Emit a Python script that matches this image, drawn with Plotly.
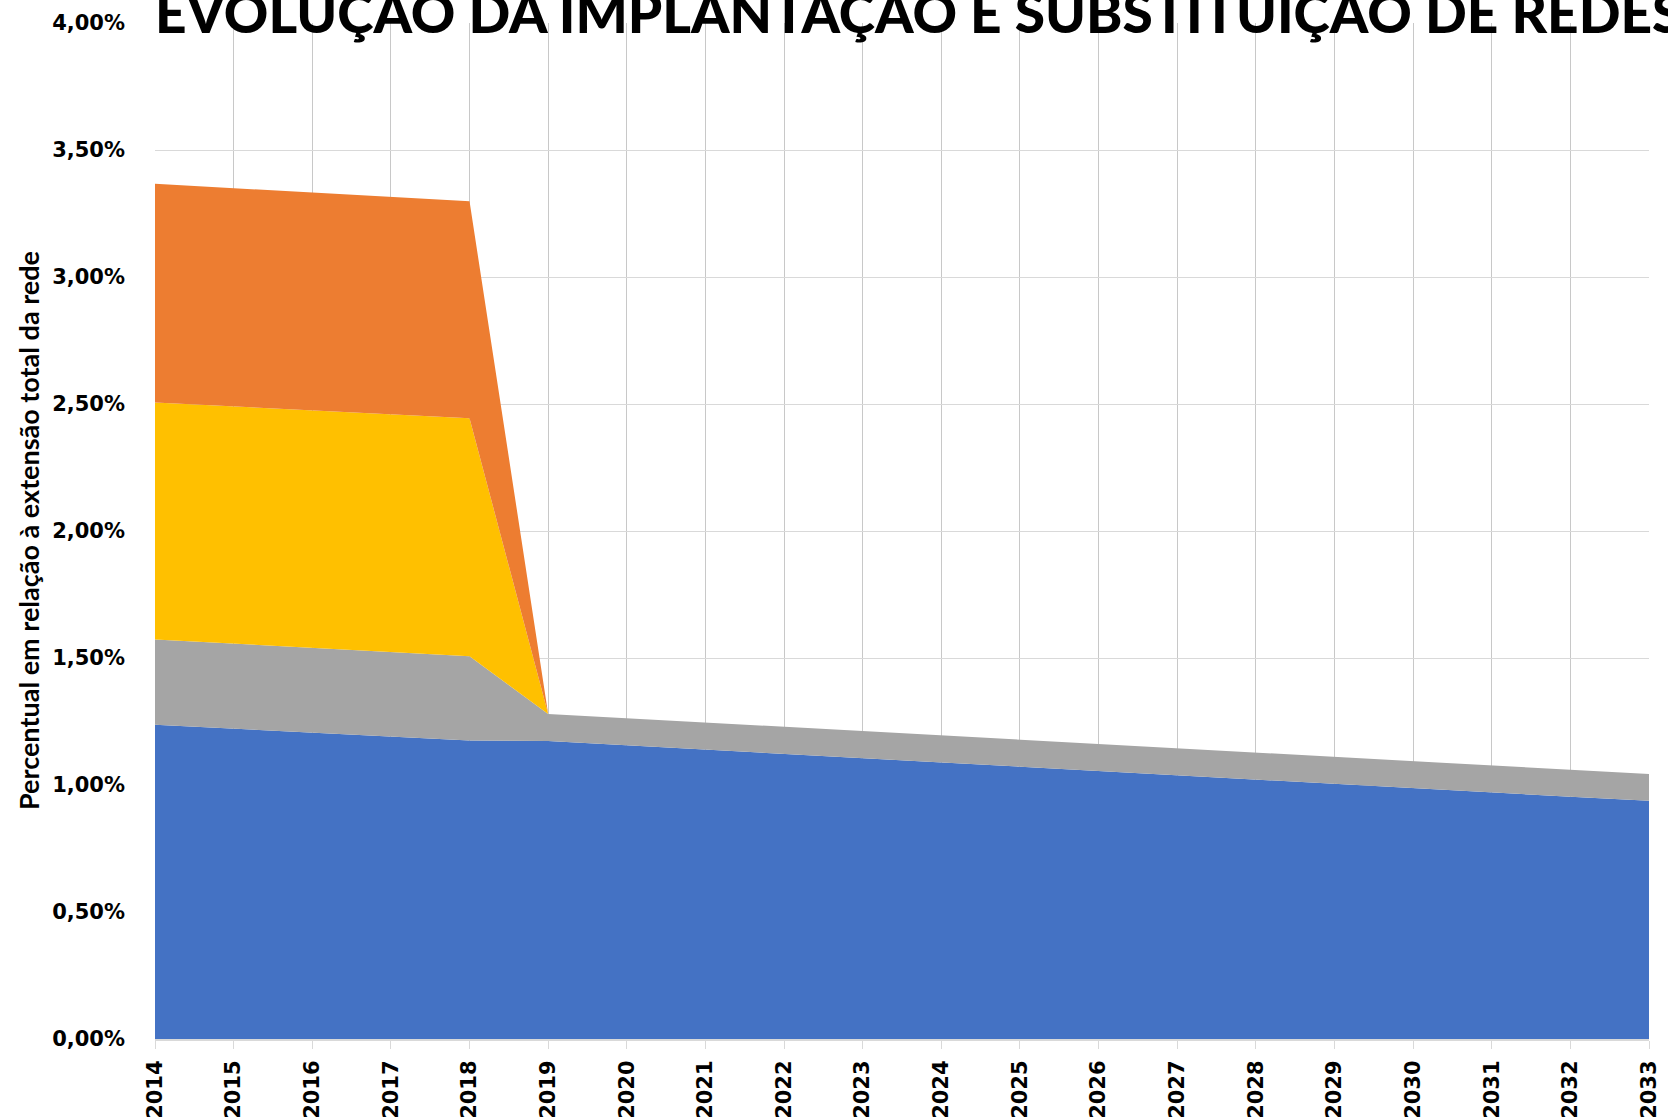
import plotly.graph_objects as go

years = list(range(2014, 2034))

# values in % of total network length (stacked, bottom to top)
blue_vals = [1.237, 1.222, 1.206, 1.190, 1.175, 1.173, 1.156, 1.139, 1.122, 1.106,
             1.089, 1.072, 1.055, 1.038, 1.021, 1.005, 0.988, 0.971, 0.954, 0.938]
gray_vals = [0.336, 0.335, 0.334, 0.333, 0.332, 0.107, 0.107, 0.107, 0.107, 0.106,
             0.106, 0.106, 0.106, 0.106, 0.105, 0.105, 0.105, 0.105, 0.105, 0.105]
yellow_vals = [0.933, 0.934, 0.935, 0.936, 0.937, 0, 0, 0, 0, 0,
               0, 0, 0, 0, 0, 0, 0, 0, 0, 0]
orange_vals = [0.861, 0.859, 0.857, 0.856, 0.854, 0, 0, 0, 0, 0,
               0, 0, 0, 0, 0, 0, 0, 0, 0, 0]

series_names = ["Série 1", "Série 2", "Série 3", "Série 4"]
series_colors = ["#4472C4", "#A5A5A5", "#FFC000", "#ED7D31"]

y_tick_vals = [0, 0.5, 1.0, 1.5, 2.0, 2.5, 3.0, 3.5, 4.0]
y_tick_text = ["0,00%", "0,50%", "1,00%", "1,50%", "2,00%", "2,50%", "3,00%", "3,50%", "4,00%"]
x_tick_text = [str(y) for y in years]

title_text = "EVOLUÇÃO DA IMPLANTAÇÃO E SUBSTITUIÇÃO DE REDES"
y_title_text = "Percentual em relação à extensão total da rede"

fig = go.Figure()
for name, vals, col in zip(series_names, [blue_vals, gray_vals, yellow_vals, orange_vals], series_colors):
    fig.add_trace(go.Scatter(
        x=years, y=vals, name=name, mode="lines", stackgroup="one",
        line=dict(width=0, color=col), fillcolor=col, hoverinfo="x+y+name"))

W, H = 1668, 1120
L, R, T, B = 155, 19, 23, 81
plot_w = W - L - R
plot_h = H - T - B

fig.update_layout(
    width=W, height=H, autosize=False,
    margin=dict(l=L, r=R, t=T, b=B, pad=0),
    paper_bgcolor="white", plot_bgcolor="white",
    showlegend=False,
    font=dict(family="DejaVu Sans", color="black"),
)
fig.update_xaxes(
    range=[2014, 2033], tickmode="array", tickvals=years, ticktext=x_tick_text,
    tickangle=-90, tickfont=dict(family="DejaVu Sans", size=21, weight="bold", color="black"),
    showgrid=True, gridcolor="#c8c8c8", gridwidth=1,
    showline=True, linecolor="#d9d9d9", linewidth=2,
    ticks="outside", ticklen=8, tickcolor="#d9d9d9", tickwidth=1,
    zeroline=False, automargin=False, ticklabelstandoff=3,
)
fig.update_yaxes(
    range=[0, 4], tickmode="array", tickvals=y_tick_vals, ticktext=y_tick_text,
    tickfont=dict(family="DejaVu Sans", size=21, weight="bold", color="black"),
    showgrid=True, gridcolor="#d9d9d9", gridwidth=1,
    showline=False, zeroline=False, ticks="", automargin=False,
    ticklabelstandoff=29,
)

fig.add_annotation(
    text=title_text, xref="paper", yref="paper",
    x=-2 / plot_w, y=1 - (47 - T) / plot_h, xanchor="left", yanchor="bottom",
    showarrow=False, font=dict(family="Lato", size=55, weight=900, color="black"),
)
fig.add_annotation(
    text=y_title_text, xref="paper", yref="paper",
    x=-(L - 28) / plot_w, y=0.5, xanchor="center", yanchor="middle",
    textangle=-90, showarrow=False,
    font=dict(family="Lato", size=27, weight="bold", color="black"),
)

fig.write_html("out.html", post_script="document.body.style.margin='0';",
               config={"displayModeBar": False})
